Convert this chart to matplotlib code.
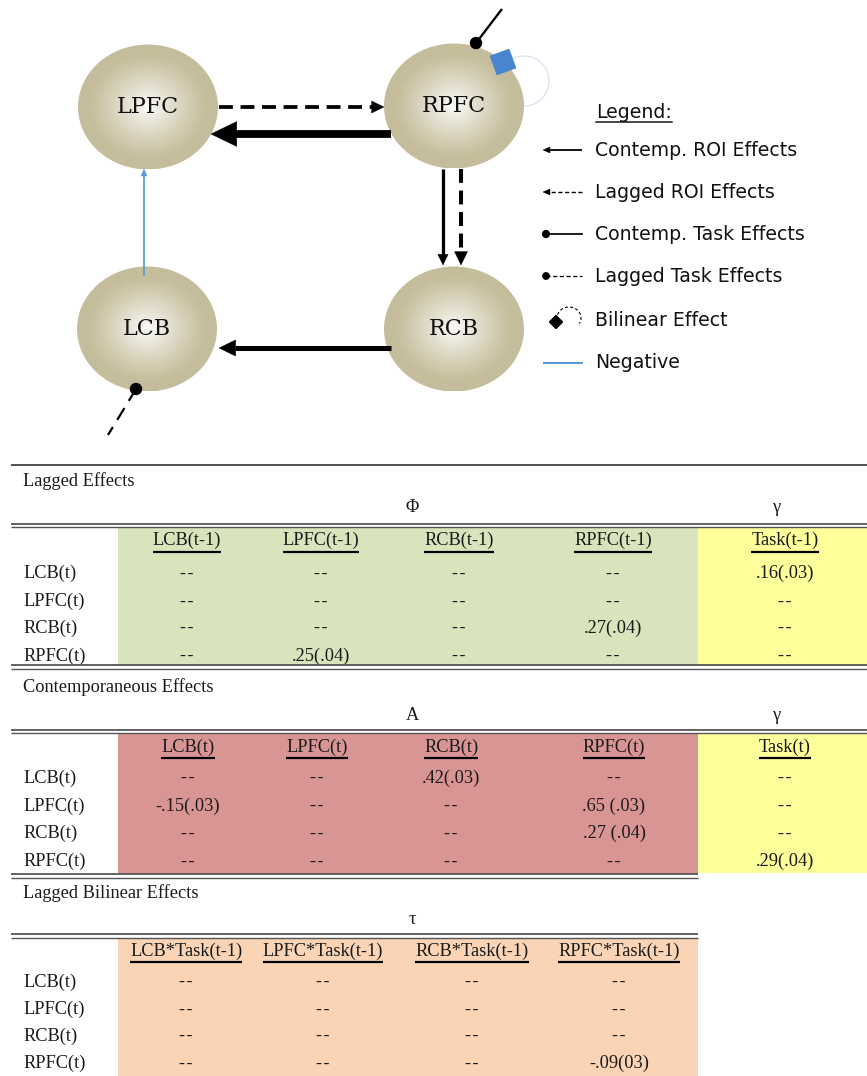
import numpy as np
import matplotlib
matplotlib.use("Agg")
import matplotlib.pyplot as plt
from matplotlib.patches import Ellipse, Polygon, Circle, Rectangle

plt.rcParams["lines.scale_dashes"] = False

# ---------------------------------------------------------------- data
regions = ["LCB", "LPFC", "RCB", "RPFC"]
row_labels = ["LCB(t)", "LPFC(t)", "RCB(t)", "RPFC(t)"]

phi_cols = ["LCB(t-1)", "LPFC(t-1)", "RCB(t-1)", "RPFC(t-1)"]
phi_vals = [["--", "--", "--", "--"],
            ["--", "--", "--", "--"],
            ["--", "--", "--", ".27(.04)"],
            ["--", ".25(.04)", "--", "--"]]
gamma_lag_col = "Task(t-1)"
gamma_lag = [".16(.03)", "--", "--", "--"]

a_cols = ["LCB(t)", "LPFC(t)", "RCB(t)", "RPFC(t)"]
a_vals = [["--", "--", ".42(.03)", "--"],
          ["-.15(.03)", "--", "--", ".65 (.03)"],
          ["--", "--", "--", ".27 (.04)"],
          ["--", "--", "--", "--"]]
gamma_con_col = "Task(t)"
gamma_con = ["--", "--", "--", ".29(.04)"]

tau_cols = ["LCB*Task(t-1)", "LPFC*Task(t-1)", "RCB*Task(t-1)", "RPFC*Task(t-1)"]
tau_vals = [["--", "--", "--", "--"],
            ["--", "--", "--", "--"],
            ["--", "--", "--", "--"],
            ["--", "--", "--", "-.09(03)"]]

legend_items = ["Contemp. ROI Effects", "Lagged ROI Effects", "Contemp. Task Effects",
                "Lagged Task Effects", "Bilinear Effect", "Negative"]

# ---------------------------------------------------------------- layout
W, H = 867, 1076
fig = plt.figure(figsize=(W / 100, H / 100), dpi=100)
ax = fig.add_axes([0, 0, 1, 1])
ax.set_xlim(0, W)
ax.set_ylim(H, 0)
ax.axis("off")

PT = 0.72  # points per pixel at 100 dpi
NEG = "#5b9bd5"
TAN = np.array([0.776, 0.741, 0.608])
CORE = np.array([0.975, 0.972, 0.960])

node_pos = {"LPFC": (148, 107), "RPFC": (454, 106), "LCB": (147, 329), "RCB": (454, 329)}
NODE_W, NODE_H = 140, 125

edge_geom = {
    ("LPFC", "RPFC", "lag"): ((219, 107), (384, 107)),
    ("RPFC", "RCB", "lag"): ((461, 169), (461, 265)),
    ("RCB", "LCB", "con"): ((391, 348), (219, 348)),
    ("LCB", "LPFC", "con"): ((144, 276), (144, 169)),
    ("RPFC", "LPFC", "con"): ((391, 134), (211, 134)),
    ("RPFC", "RCB", "con"): ((443, 169), (443, 265)),
}
task_geom = {
    ("LCB", "lag"): ((136, 389), (108, 435)),
    ("RPFC", "con"): ((476, 43), (502, 9)),
}


def num(s):
    return float(s.split("(")[0].strip())


def cell(s):
    # keep the two hyphens of an empty cell visibly apart
    return s.replace("--", "-\u200a-")


def arrow(p0, p1, lw, hl, hw, color, dashes=None, z=4):
    (x0, y0), (x1, y1) = p0, p1
    dx, dy = x1 - x0, y1 - y0
    L = np.hypot(dx, dy)
    ux, uy = dx / L, dy / L
    bx, by = x1 - ux * hl, y1 - uy * hl
    ln, = ax.plot([x0, bx + ux], [y0, by + uy], color=color, lw=lw * PT,
                  solid_capstyle="butt", dash_capstyle="butt", zorder=z)
    if dashes:
        ln.set_dashes(dashes)
    px, py = -uy, ux
    ax.add_patch(Polygon([(x1, y1), (bx + px * hw / 2, by + py * hw / 2),
                          (bx - px * hw / 2, by - py * hw / 2)],
                         closed=True, facecolor=color, edgecolor=color, lw=0.3, zorder=z))


# nodes with radial shading
n = 240
yy, xx = np.mgrid[-1:1:n * 1j, -1:1:n * 1j]
rr = np.sqrt(xx ** 2 + yy ** 2)
f = np.clip((rr - 0.05) / 0.78, 0, 1) ** 0.85
shade = CORE * (1 - f[..., None]) + TAN * f[..., None]
for name, (cx, cy) in node_pos.items():
    im = ax.imshow(shade, extent=(cx - NODE_W / 2, cx + NODE_W / 2, cy + NODE_H / 2, cy - NODE_H / 2),
                   interpolation="bilinear", zorder=2)
    clip = Ellipse((cx, cy), NODE_W, NODE_H, facecolor="none", edgecolor="none")
    ax.add_patch(clip)
    im.set_clip_path(clip)
    ax.text(cx, cy, name, ha="center", va="center", fontsize=16,
            family="DejaVu Serif", color="#111111", zorder=5)
ax.set_aspect("auto")
ax.set_xlim(0, W)
ax.set_ylim(H, 0)

# ROI edges from the coefficient tables
for kind, vals in (("lag", phi_vals), ("con", a_vals)):
    for i, tgt in enumerate(regions):
        for j, src in enumerate(regions):
            s = vals[i][j]
            if s.strip() == "--":
                continue
            v = num(s)
            color = NEG if v < 0 else "black"
            if kind == "con":
                lw = 12.0 * abs(v)
                dashes = None
            else:
                lw = 15.0 * abs(v)
                dashes = (10, 5.5)
            hl = max(7, 3.3 * lw)
            hw = max(6, 3.2 * lw)
            p0, p1 = edge_geom[(src, tgt, kind)]
            arrow(p0, p1, lw, hl, hw, color, dashes)

# task effects
for kind, vals in (("lag", gamma_lag), ("con", gamma_con)):
    for i, tgt in enumerate(regions):
        s = vals[i]
        if s.strip() == "--":
            continue
        v = num(s)
        (dx0, dy0), (ex, ey) = task_geom[(tgt, kind)]
        lw = 14.0 * abs(v) if kind == "lag" else 8.0 * abs(v)
        ln, = ax.plot([dx0, ex], [dy0, ey], color="black", lw=lw * PT,
                      solid_capstyle="butt", dash_capstyle="butt", zorder=4)
        if kind == "lag":
            ln.set_dashes((10, 6))
        ax.add_patch(Circle((dx0, dy0), 5.5, color="black", zorder=5))

# bilinear effect (RPFC*Task -> RPFC)
for i, tgt in enumerate(regions):
    for j, src in enumerate(regions):
        s = tau_vals[i][j]
        if s.strip() == "--":
            continue
        v = num(s)
        color = NEG if v < 0 else "black"
        cx, cy, r = 524, 81, 25
        a = np.radians(np.linspace(-120, 95, 80))
        ax.plot(cx + r * np.cos(a), cy + r * np.sin(a), color="#d3dfee", lw=0.8, zorder=1)
        sx, sy, side, ang = 503, 62, 19.5, np.radians(-20)
        c, s_ = np.cos(ang), np.sin(ang)
        corners = [(-1, -1), (1, -1), (1, 1), (-1, 1)]
        pts = [(sx + side / 2 * (u * c - w_ * s_), sy + side / 2 * (u * s_ + w_ * c)) for u, w_ in corners]
        ax.add_patch(Polygon(pts, closed=True, facecolor="#4a86d0", edgecolor="#4a86d0", zorder=6))

# ---------------------------------------------------------------- legend
LF = dict(family="DejaVu Sans", fontsize=13.6, color="#111111", va="center")
t = ax.text(596, 112, "Legend:", **LF, zorder=5)
fig.canvas.draw()
renderer = fig.canvas.get_renderer()
inv = ax.transData.inverted()


def span(txt):
    bb = txt.get_window_extent(renderer)
    (xa, _), (xb, _) = inv.transform([(bb.x0, bb.y0), (bb.x1, bb.y1)])
    return xa, xb


xa, xb = span(t)
ax.plot([xa, xb], [122, 122], color="#111111", lw=1.5 * PT)

leg_y = [150, 192, 234, 276, 320, 363]
for label, y in zip(legend_items, leg_y):
    ax.text(595, y, label, **LF)
x0, x1 = 582, 543
arrow((x0, leg_y[0]), (x1, leg_y[0]), 1.8, 7, 6, "black")
arrow((x0, leg_y[1]), (x1, leg_y[1]), 1.4, 7, 6, "black", dashes=(3, 1.8))
ax.plot([546, x0], [leg_y[2]] * 2, color="black", lw=1.7 * PT)
ax.add_patch(Circle((546, leg_y[2]), 3.4, color="black"))
l, = ax.plot([546, x0], [leg_y[3]] * 2, color="black", lw=1.3 * PT)
l.set_dashes((3, 1.8))
ax.add_patch(Circle((546, leg_y[3]), 3.2, color="black"))
a = np.radians(np.linspace(170, 390, 40))
l, = ax.plot(569 + 12 * np.cos(a), 318 + 11 * np.sin(a), color="black", lw=1.1 * PT)
l.set_dashes((2.2, 1.6))
dcx, dcy, dd = 556, 322, 6.5
ax.add_patch(Polygon([(dcx, dcy - dd), (dcx + dd, dcy), (dcx, dcy + dd), (dcx - dd, dcy)],
                     closed=True, color="black"))
ax.plot([544, x0], [leg_y[5]] * 2, color=NEG, lw=2 * PT)

# ---------------------------------------------------------------- tables
TF = dict(family="Liberation Serif", fontsize=13.2, color="#1a1a1a", va="center")
RULE = "#555555"
LEFT, SPLIT, RIGHT = 11, 698, W
COL_X = [187, 321, 459, 613]
GAMMA_X = 785


def hrule(y, x0, x1, lw=1.6):
    ax.plot([x0, x1], [y, y], color=RULE, lw=lw * PT, solid_capstyle="butt", zorder=3)


def double_rule(y, x0, x1):
    hrule(y, x0, x1, 1.8)
    hrule(y + 3.5, x0, x1, 1.4)


def header(x, y, label, uy):
    tt = ax.text(x, y, label, ha="center", **TF, zorder=4)
    xa, xb = span(tt)
    ax.plot([xa, xb], [uy, uy], color="black", lw=2.2 * PT, solid_capstyle="butt", zorder=4)


def body(vals, cols_x, row_ys, extra=None, extra_x=None):
    for i, y in enumerate(row_ys):
        ax.text(23, y, row_labels[i], ha="left", **TF)
        for j, x in enumerate(cols_x):
            ax.text(x, y, cell(vals[i][j]), ha="center", **TF)
        if extra is not None:
            ax.text(extra_x, y, cell(extra[i]), ha="center", **TF)


# Lagged effects
hrule(465, LEFT, RIGHT, 2.0)
ax.text(23, 481, "Lagged Effects", ha="left", **TF)
ax.text(412, 507, "Φ", ha="center", **TF)
ax.text(776, 508, "γ", ha="center", **TF)
ax.add_patch(Rectangle((118, 527), SPLIT - 118, 139, facecolor="#d8e4bc", edgecolor="none", zorder=0))
ax.add_patch(Rectangle((SPLIT, 527), RIGHT - SPLIT, 139, facecolor="#fefe9a", edgecolor="none", zorder=0))
double_rule(523.5, LEFT, RIGHT)
fig.canvas.draw()
for x, c in zip(COL_X, phi_cols):
    header(x, 540, c, 552)
header(GAMMA_X, 540, gamma_lag_col, 552)
body(phi_vals, COL_X, [573, 601, 628, 656], gamma_lag, GAMMA_X)
double_rule(665, LEFT, RIGHT)

# Contemporaneous effects
COL_X2 = [188, 317, 451, 614]
ax.text(23, 687, "Contemporaneous Effects", ha="left", **TF)
ax.text(412, 715, "A", ha="center", **TF)
ax.text(776, 716, "γ", ha="center", **TF)
ax.add_patch(Rectangle((118, 733), SPLIT - 118, 141, facecolor="#d99594", edgecolor="none", zorder=0))
ax.add_patch(Rectangle((SPLIT, 733), RIGHT - SPLIT, 140, facecolor="#fefe9a", edgecolor="none", zorder=0))
double_rule(729.5, LEFT, RIGHT)
for x, c in zip(COL_X2, a_cols):
    header(x, 747, c, 758)
header(GAMMA_X, 747, gamma_con_col, 758)
body(a_vals, COL_X2, [778, 806, 833, 861], gamma_con, GAMMA_X)
double_rule(874, LEFT, SPLIT)

# Lagged bilinear effects
COL_X3 = [186, 323, 472, 619]
ax.text(23, 893, "Lagged Bilinear Effects", ha="left", **TF)
ax.text(412, 920, "τ", ha="center", **TF)
ax.add_patch(Rectangle((118, 938), SPLIT - 118, H - 938, facecolor="#fad4b4", edgecolor="none", zorder=0))
double_rule(934, LEFT, SPLIT)
for x, c in zip(COL_X3, tau_cols):
    header(x, 951, c, 962)
body(tau_vals, COL_X3, [982, 1009, 1036, 1063])

fig.savefig("out.png", dpi=100)
